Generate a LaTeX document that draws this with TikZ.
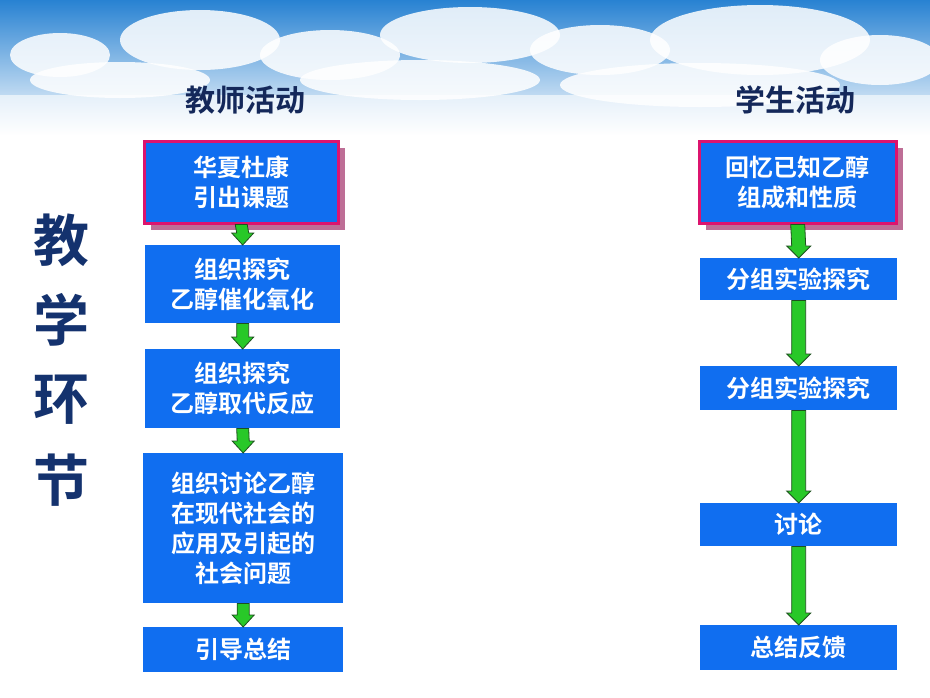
\documentclass[tikz,border=0pt]{standalone}
\usepackage{fontspec}
\newfontfamily\cjk{Noto Sans CJK SC}[BoldFont={* Bold}]
\usetikzlibrary{calc}
\definecolor{boxblue}{RGB}{16,110,240}
\definecolor{boxred}{RGB}{220,20,110}
\definecolor{shadowc}{RGB}{190,110,150}
\definecolor{headc}{RGB}{20,40,90}
\definecolor{bigc}{RGB}{20,50,110}
\definecolor{arrg}{RGB}{40,200,40}
\definecolor{arrd}{RGB}{30,80,30}
\definecolor{sky}{RGB}{40,130,210}
\tikzset{
 box/.style={fill=boxblue, text=white, font=\cjk\bfseries\fontsize{24}{30}\selectfont, align=center, inner sep=0pt, anchor=north west},
 redbox/.style={box, draw=boxred, line width=2.5pt},
 head/.style={font=\cjk\bfseries\fontsize{30}{34}\selectfont, text=headc},
 big/.style={font=\cjk\bfseries\fontsize{56}{60}\selectfont, text=bigc},
 arr/.style={fill=arrg, draw=arrd, line width=0.8pt}
}
\newcommand\barrow[3]{\path (#1.south) coordinate (s) (#2.north) coordinate (e);
 \filldraw[arr] ($(s)+(-#3,0)$) -- ($(e)+(-#3,-12)$) -- ($(e)+(-#3-5,-12)$) -- (e) -- ($(e)+(#3+5,-12)$) -- ($(e)+(#3,-12)$) -- ($(s)+(#3,0)$) -- cycle;}
\begin{document}
\begin{tikzpicture}[x=1pt,y=-1pt]
\useasboundingbox (0,0) rectangle (930,697);
\fill[white] (0,0) rectangle (930,697);
\shade[top color=sky, bottom color=white] (0,0) rectangle (930,135);
\foreach \cx/\cy/\rx/\ry in {60/55/50/22,200/40/80/30,330/55/70/25,470/35/90/28,600/50/70/25,760/40/110/35,880/60/60/25,120/80/90/18,420/80/120/20,700/85/140/22}
  \fill[white,opacity=0.85] (\cx,\cy) ellipse ({\rx} and {\ry});
\fill[white,opacity=0.6] (0,95) rectangle (930,135);
\node[head] (th) at (245,100) {教师活动};
\node[head] (sh) at (795,100) {学生活动};
\foreach \t/\y in {教/240,学/320,环/400,节/480}
  \node[big] at (62,\y) {\t};
% left
\fill[shadowc] (151,148) rectangle (345,230);
\node[redbox, minimum width=194pt, minimum height=82pt] (l1) at (143,140) {华夏杜康\\引出课题};
\node[box, minimum width=195pt, minimum height=78pt] (l2) at (145,245) {组织探究\\乙醇催化氧化};
\node[box, minimum width=195pt, minimum height=79pt] (l3) at (145,349) {组织探究\\乙醇取代反应};
\node[box, minimum width=200pt, minimum height=150pt] (l4) at (143,453) {组织讨论乙醇\\在现代社会的\\应用及引起的\\社会问题};
\node[box, minimum width=200pt, minimum height=45pt] (l5) at (143,627) {引导总结};
% right
\fill[shadowc] (706,148) rectangle (903,230);
\node[redbox, minimum width=197pt, minimum height=82pt] (r1) at (698,140) {回忆已知乙醇\\组成和性质};
\node[box, minimum width=197pt, minimum height=42pt] (r2) at (700,258) {分组实验探究};
\node[box, minimum width=197pt, minimum height=44pt] (r3) at (700,366) {分组实验探究};
\node[box, minimum width=197pt, minimum height=43pt] (r4) at (700,503) {讨论};
\node[box, minimum width=197pt, minimum height=45pt] (r5) at (700,625) {总结反馈};
\barrow{l1}{l2}{6}\barrow{l2}{l3}{6}\barrow{l3}{l4}{6}\barrow{l4}{l5}{6}
\barrow{r1}{r2}{7}\barrow{r2}{r3}{7}\barrow{r3}{r4}{7}\barrow{r4}{r5}{7}
\end{tikzpicture}
\end{document}
